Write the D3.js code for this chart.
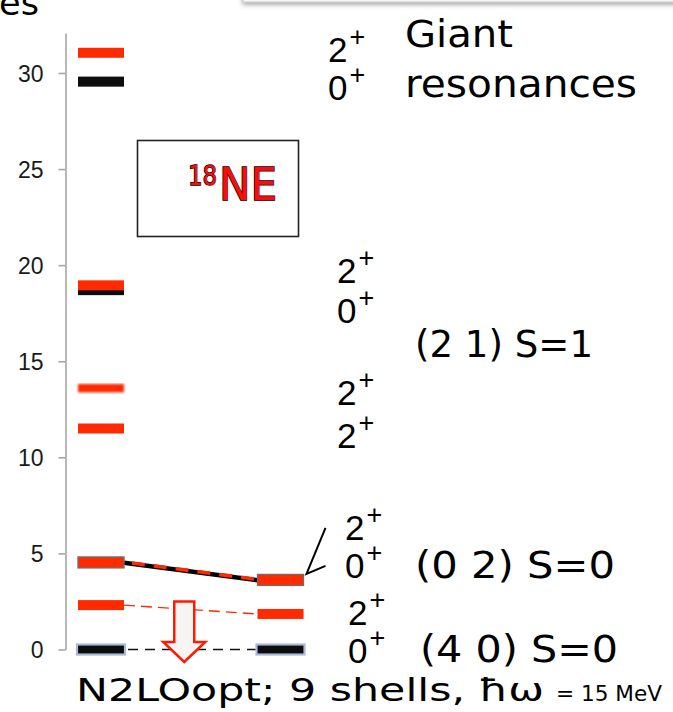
<!DOCTYPE html>
<html>
<head>
<meta charset="utf-8">
<script src="https://cdn.jsdelivr.net/npm/d3@7"></script>
<style>
  html, body { margin: 0; padding: 0; background: #fff; }
  svg { display: block; }
</style>
</head>
<body>
<svg id="chart" width="673" height="712"></svg>
<script>
// ---- data -------------------------------------------------------------
// excitation energies (MeV) of the computed 18Ne states, per calculation column
const levelColumn = [0, 0, 0, 0, 0, 0, 0, 0, 0, 1, 1, 1];
const levelEnergy = [31.05, 29.55, 18.7, 18.95, 13.6, 11.5, 4.53, 2.31, 0, 3.62, 1.85, 0];
const levelKind   = ["red", "black", "black", "red", "faint", "red", "outlined", "red", "ground", "outlined", "red", "ground"];

// lines joining the same state between the two columns (indices into the level arrays)
const linkFrom  = [6, 7, 8];
const linkTo    = [9, 10, 11];
const linkKind  = ["bold", "thinRed", "thinBlack"];

// energy axis ticks
const yTicks = [0, 5, 10, 15, 20, 25, 30];

// J^pi labels and the energy their baseline sits at
const spinValue  = ["2", "0", "2", "0", "2", "2", "2", "0", "2", "0"];
const spinEnergy = [30.57, 28.59, 19.07, 16.99, 12.72, 10.48, 5.70, 3.72, 1.27, -0.70];
const spinGroup  = [0, 0, 1, 1, 1, 1, 2, 2, 3, 3];

// multiplet labels
const groupLines  = [["Giant", "resonances"], ["(2 1) S=1"], ["(0 2) S=0"], ["(4 0) S=0"]];
const groupEnergy = [[31.36, 28.75], [15.21], [3.72], [-0.65]];

// downward arrow marking the ground-state shift
const arrowTopEnergy = 2.5;
const arrowTipEnergy = -0.65;

const footnote = "N2LOopt; 9 shells, \u0127\u03C9";
const footnoteUnit = "= 15 MeV";

// ---- layout -----------------------------------------------------------
const svg = d3.select("#chart");
const comic = "'Comic Sans MS', 'DejaVu Sans', sans-serif";
const arial = "Arial, 'Liberation Sans', sans-serif";

const y = d3.scaleLinear().domain([0, 32.08]).range([649.5, 33]);
const x = d3.scaleLinear().domain([0, 1]).range([101, 280.5]);
const barW = 46;

// widths of the hand-lettered labels
const groupWidth = [[108, 232], [178], [200], [198]];

const defs = svg.append("defs");
defs.append("filter").attr("id", "soft")
  .append("feGaussianBlur").attr("stdDeviation", 0.7);
defs.append("filter").attr("id", "softer")
  .append("feGaussianBlur").attr("stdDeviation", 1.3);
const sh = defs.append("filter").attr("id", "shadow")
  .attr("x", "-10%").attr("y", "-50%").attr("width", "120%").attr("height", "250%");
sh.append("feDropShadow").attr("dx", 0).attr("dy", 2).attr("stdDeviation", 2.5)
  .attr("flood-color", "#888").attr("flood-opacity", 0.8);
const grad = defs.append("linearGradient").attr("id", "fade")
  .attr("x1", 0).attr("y1", 0).attr("x2", 0).attr("y2", 1);
grad.append("stop").attr("offset", "0%").attr("stop-color", "#fff").attr("stop-opacity", 0.3);
grad.append("stop").attr("offset", "75%").attr("stop-color", "#fff").attr("stop-opacity", 0);
const mask = defs.append("mask").attr("id", "reflMask");
mask.append("rect").attr("x", 150).attr("y", 200).attr("width", 140).attr("height", 28)
  .attr("fill", "url(#fade)");

// slide header edge peeking in at the top
svg.append("rect").attr("x", 243).attr("y", -40).attr("width", 460).attr("height", 42)
  .attr("fill", "#f4f4f4").attr("stroke", "#d0d0d0").attr("filter", "url(#shadow)");

// cut-off title fragment
svg.append("text").attr("x", -1).attr("y", 15).attr("textLength", 40).attr("lengthAdjust", "spacingAndGlyphs")
  .attr("font-family", comic).attr("font-size", 34).attr("fill", "#000").text("es");

// ---- axis -------------------------------------------------------------
const axis = d3.axisLeft(y).tickValues(yTicks).tickSize(7).tickSizeOuter(0).tickPadding(15);
const gAxis = svg.append("g").attr("transform", "translate(65.5,0)").call(axis);
gAxis.select(".domain").attr("stroke", "#a6a6a6").attr("stroke-width", 1.6);
gAxis.selectAll(".tick line").attr("stroke", "#a6a6a6").attr("stroke-width", 1.6);
gAxis.selectAll(".tick text").attr("font-family", arial).attr("font-size", 23)
  .attr("fill", "#1a1a1a").attr("dy", "0.36em");

// ---- connectors -------------------------------------------------------
const links = linkFrom.map((f, i) => ({ a: f, b: linkTo[i], kind: linkKind[i] }));
const gLinks = svg.append("g");
links.forEach(l => {
  const x1 = x(levelColumn[l.a]) + barW / 2, y1 = y(levelEnergy[l.a]);
  const x2 = x(levelColumn[l.b]) - barW / 2, y2 = y(levelEnergy[l.b]);
  if (l.kind === "bold") {
    gLinks.append("line").attr("x1", x1).attr("y1", y1 + 0.3).attr("x2", x2).attr("y2", y2 + 0.3)
      .attr("stroke", "#000").attr("stroke-width", 4.6);
    gLinks.append("line").attr("x1", x1).attr("y1", y1 - 0.5).attr("x2", x2).attr("y2", y2 - 0.5)
      .attr("stroke", "#ff2a00").attr("stroke-width", 3.6).attr("stroke-dasharray", "13,9")
      .attr("stroke-dashoffset", -8);
  } else if (l.kind === "thinRed") {
    gLinks.append("line").attr("x1", x1).attr("y1", y1).attr("x2", x2).attr("y2", y2)
      .attr("stroke", "#ff2a00").attr("stroke-width", 1.4).attr("stroke-dasharray", "11,6");
  } else {
    gLinks.append("line").attr("x1", x1).attr("y1", y1).attr("x2", x2).attr("y2", y2)
      .attr("stroke", "#111").attr("stroke-width", 1.4).attr("stroke-dasharray", "10,7")
      .attr("stroke-dashoffset", -4);
  }
});

// ---- levels -----------------------------------------------------------
const levels = levelEnergy.map((e, i) => ({ e, col: levelColumn[i], kind: levelKind[i] }));
const gLevels = svg.append("g");
gLevels.selectAll("g.level").data(levels).join("g").attr("class", "level")
  .each(function (d) {
    const g = d3.select(this);
    const cx = x(d.col), cy = y(d.e);
    if (d.kind === "red" || d.kind === "faint") {
      const h = d.kind === "faint" ? 8.5 : 10;
      g.append("rect").attr("x", cx - barW / 2).attr("y", cy - h / 2)
        .attr("width", barW).attr("height", h)
        .attr("fill", "#ff2a00").attr("filter", d.kind === "faint" ? "url(#softer)" : "url(#soft)");
    } else if (d.kind === "black") {
      g.append("rect").attr("x", cx - barW / 2).attr("y", cy - 5)
        .attr("width", barW).attr("height", 10)
        .attr("fill", "#0a0a0a").attr("filter", "url(#soft)");
    } else if (d.kind === "outlined") {
      g.append("rect").attr("x", cx - barW / 2).attr("y", cy - 5.5)
        .attr("width", barW).attr("height", 11)
        .attr("fill", "#ff2a00").attr("stroke", "#6e6e6e").attr("stroke-width", 1.3);
    } else {
      g.append("rect").attr("x", cx - barW / 2 - 1).attr("y", cy - 5)
        .attr("width", barW + 2).attr("height", 10)
        .attr("fill", "#0a0a0a").attr("stroke", "#a9b8db").attr("stroke-width", 2.2)
        .attr("filter", "url(#soft)");
    }
  });

// ---- hollow arrow -----------------------------------------------------
const ax = (x(0) + x(1)) / 2 - 6.5;
const aTop = y(arrowTopEnergy), aTip = y(arrowTipEnergy);
const headTop = aTip - 20;
const arrowPath = d3.path();
arrowPath.moveTo(ax - 10, aTop);
arrowPath.lineTo(ax + 10, aTop);
arrowPath.lineTo(ax + 10, headTop);
arrowPath.lineTo(ax + 21, headTop);
arrowPath.lineTo(ax, aTip);
arrowPath.lineTo(ax - 21, headTop);
arrowPath.lineTo(ax - 10, headTop);
arrowPath.closePath();
svg.append("path").attr("d", arrowPath.toString())
  .attr("fill", "#f6f5f3").attr("stroke", "#ff1a00").attr("stroke-width", 2.5)
  .attr("stroke-linejoin", "miter");

// ---- pointer from the (0 2) 0+ label to its level ---------------------
const px = x(1) + barW / 2 + 3, py = y(levelEnergy[9]) - 6;
svg.append("path")
  .attr("d", `M${px + 19},${py - 46} L${px},${py} L${px + 19},${py - 8}`)
  .attr("fill", "none").attr("stroke", "#000").attr("stroke-width", 2);

// ---- 18Ne inset -------------------------------------------------------
svg.append("rect").attr("x", 137.5).attr("y", 140.5).attr("width", 161).attr("height", 96)
  .attr("fill", "#fff").attr("stroke", "#222").attr("stroke-width", 1.6);
function nucleus(g) {
  const common = t => t.attr("font-family", comic).attr("fill", "#ff0a0a")
    .attr("stroke", "#000").attr("stroke-width", 1.4).attr("paint-order", "stroke")
    .attr("lengthAdjust", "spacingAndGlyphs");
  common(g.append("text").attr("x", 188).attr("y", 185).attr("font-size", 27)
    .attr("textLength", 29).text("18"));
  common(g.append("text").attr("x", 219).attr("y", 200).attr("font-size", 44)
    .attr("textLength", 58).text("NE"));
}
nucleus(svg.append("g"));
const refl = svg.append("g").attr("mask", "url(#reflMask)").attr("opacity", 0.6)
  .attr("transform", "translate(0,401) scale(1,-1)");
nucleus(refl);

// ---- J^pi labels ------------------------------------------------------
const spinX = [328, 337, 345, 348];
const spins = spinValue.map((v, i) => ({ v, e: spinEnergy[i], g: spinGroup[i] }));
svg.append("g").selectAll("text").data(spins).join("text")
  .attr("x", d => spinX[d.g]).attr("y", d => y(d.e))
  .attr("font-family", arial).attr("font-size", 35).attr("fill", "#000")
  .each(function (d) {
    const t = d3.select(this);
    t.append("tspan").text(d.v);
    t.append("tspan").attr("font-size", 27).attr("dx", 2).attr("dy", -16).text("+");
  });

// ---- multiplet labels -------------------------------------------------
const groupX = [405, 415, 415, 420];
groupLines.forEach((lines, gi) => {
  lines.forEach((line, li) => {
    svg.append("text").attr("x", groupX[gi]).attr("y", y(groupEnergy[gi][li]))
      .attr("textLength", groupWidth[gi][li]).attr("lengthAdjust", "spacingAndGlyphs")
      .attr("font-family", comic).attr("font-size", 37).attr("fill", "#000").text(line);
  });
});

// ---- footnote ---------------------------------------------------------
svg.append("text").attr("x", 76).attr("y", 701)
  .attr("textLength", 468).attr("lengthAdjust", "spacingAndGlyphs")
  .attr("font-family", comic).attr("font-size", 32).attr("fill", "#000").text(footnote);
svg.append("text").attr("x", 556).attr("y", 701)
  .attr("textLength", 106).attr("lengthAdjust", "spacingAndGlyphs")
  .attr("font-family", comic).attr("font-size", 21).attr("fill", "#000").text(footnoteUnit);
</script>
</body>
</html>
